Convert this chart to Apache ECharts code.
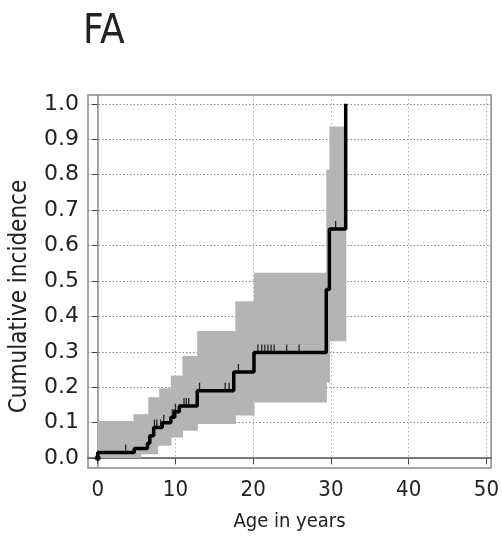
<!DOCTYPE html>
<html>
<head>
<meta charset="utf-8">
<script src="https://cdn.jsdelivr.net/npm/echarts@6/dist/echarts.min.js"></script>
<style>
html,body{margin:0;padding:0;background:#fff;}
#chart{width:502px;height:537px;}
</style>
</head>
<body>
<div id="chart"></div>
<script>
// ---- data ----
var title = 'FA';
var xName = 'Age in years';
var yName = 'Cumulative incidence';
var xTicks = [0, 10, 20, 30, 40, 50];
var yTicks = [0, 0.1, 0.2, 0.3, 0.4, 0.5, 0.6, 0.7, 0.8, 0.9, 1.0];

// cumulative incidence step function (value holds from time to next time)
var ciTimes  = [0, 0, 4.7, 6.4, 6.7, 7.2, 8.3, 9.4, 9.9, 10.5, 12.8, 17.5, 20.1, 29.4, 29.8, 31.9];
var ciValues = [0, 0.016, 0.027, 0.042, 0.063, 0.086, 0.100, 0.115, 0.131, 0.147, 0.190, 0.243, 0.298, 0.476, 0.647, 1.0];

// confidence band (step intervals; last time closes the band)
var bandTimes = [0, 4.6, 5.5, 6.5, 7.7, 7.9, 9.4, 10.9, 12.8, 17.7, 20.1, 29.4, 29.8, 31.9];
var bandUpper = [0.105, 0.124, 0.124, 0.172, 0.172, 0.197, 0.233, 0.288, 0.359, 0.443, 0.523, 0.814, 0.936];
var bandLower = [0, 0, 0.011, 0.011, 0.035, 0.035, 0.058, 0.077, 0.096, 0.120, 0.157, 0.213, 0.330];

// censoring marks
var censorTimes = [3.6, 7.3, 7.6, 8.1, 8.5, 9.6, 9.8, 10.0, 11.1, 11.4, 11.7, 13.1, 16.4, 16.9, 18.1, 20.6, 21.1, 21.5, 21.9, 22.3, 22.7, 24.3, 25.9, 30.6];

// ---- build ----
function stepValueAt(t) {
  var v = 0;
  for (var i = 0; i < ciTimes.length; i++) { if (ciTimes[i] <= t) v = ciValues[i]; }
  return v;
}
var lineData = ciTimes.map(function (t, i) { return [t, ciValues[i]]; });
var bandData = bandUpper.map(function (u, i) { return [bandTimes[i], bandTimes[i + 1], bandLower[i], u]; });
var censorData = censorTimes.map(function (t) { return [t, stepValueAt(t)]; });

var condensed = '"DejaVu Sans Condensed","Liberation Sans Narrow",sans-serif';
var chart = echarts.init(document.getElementById('chart'));
chart.setOption({
  animation: false,
  backgroundColor: '#fff',
  title: {
    text: title, left: 78, top: 8,
    textStyle: { fontFamily: condensed, fontWeight: 'normal', fontSize: 40, color: '#222' }
  },
  grid: { left: 87, top: 95, right: 9, bottom: 68, show: true, borderColor: '#8a8a8a', borderWidth: 1.5, backgroundColor: 'transparent' },
  xAxis: {
    type: 'value', min: -1.25, max: 50.6,
    name: xName, nameLocation: 'middle', nameGap: 44,
    nameTextStyle: { fontFamily: condensed, fontSize: 20, color: '#222' },
    axisLine: { show: true, lineStyle: { color: '#555', width: 1.5 } },
    axisTick: { show: true, length: 6, customValues: xTicks, lineStyle: { color: '#444' } },
    axisLabel: { customValues: xTicks, fontFamily: condensed, fontSize: 22, color: '#222', margin: 11, formatter: function (v) { return String(v); } },
    splitLine: { show: true, lineStyle: { color: '#b0b0b0', type: [1.5, 2.5], width: 1 } }
  },
  yAxis: {
    type: 'value', min: -0.028, max: 1.025,
    name: yName, nameLocation: 'middle', nameGap: 56, nameRotate: 90,
    nameTextStyle: { fontFamily: condensed, fontSize: 24, color: '#222', padding: [0, 30, 0, 0] },
    axisLine: { show: true, lineStyle: { color: '#8a8a8a', width: 1.5 } },
    axisTick: { show: true, length: 6, customValues: yTicks, lineStyle: { color: '#444' } },
    axisLabel: { customValues: yTicks, fontFamily: '"DejaVu Sans",sans-serif', fontSize: 22, color: '#222', margin: 9, formatter: function (v) { return v.toFixed(1); } },
    splitLine: { show: true, lineStyle: { color: '#888', type: [1.5, 2], width: 1 } }
  },
  series: [
    {
      type: 'custom', name: 'band', data: bandData, z: 2, silent: true,
      encode: { x: [0, 1], y: [2, 3] },
      renderItem: function (params, api) {
        var p0 = api.coord([api.value(0), api.value(3)]);
        var p1 = api.coord([api.value(1), api.value(2)]);
        return {
          type: 'rect',
          shape: { x: p0[0], y: p0[1], width: p1[0] - p0[0] + 0.6, height: p1[1] - p0[1] },
          style: { fill: '#b4b4b4' }
        };
      }
    },
    {
      type: 'line', name: 'CI', step: 'end', data: lineData,
      symbol: 'none', lineStyle: { color: '#000', width: 3.5 }, z: 5
    },
    {
      type: 'scatter', name: 'censor', data: censorData,
      symbol: 'rect', symbolSize: [1.3, 8], symbolOffset: [0, -4],
      itemStyle: { color: '#000' }, z: 6
    },
    {
      type: 'scatter', name: 'origin', data: [[ciTimes[0], ciValues[0]]],
      symbol: 'circle', symbolSize: 6, itemStyle: { color: '#000' }, z: 6
    }
  ]
});
</script>
</body>
</html>
